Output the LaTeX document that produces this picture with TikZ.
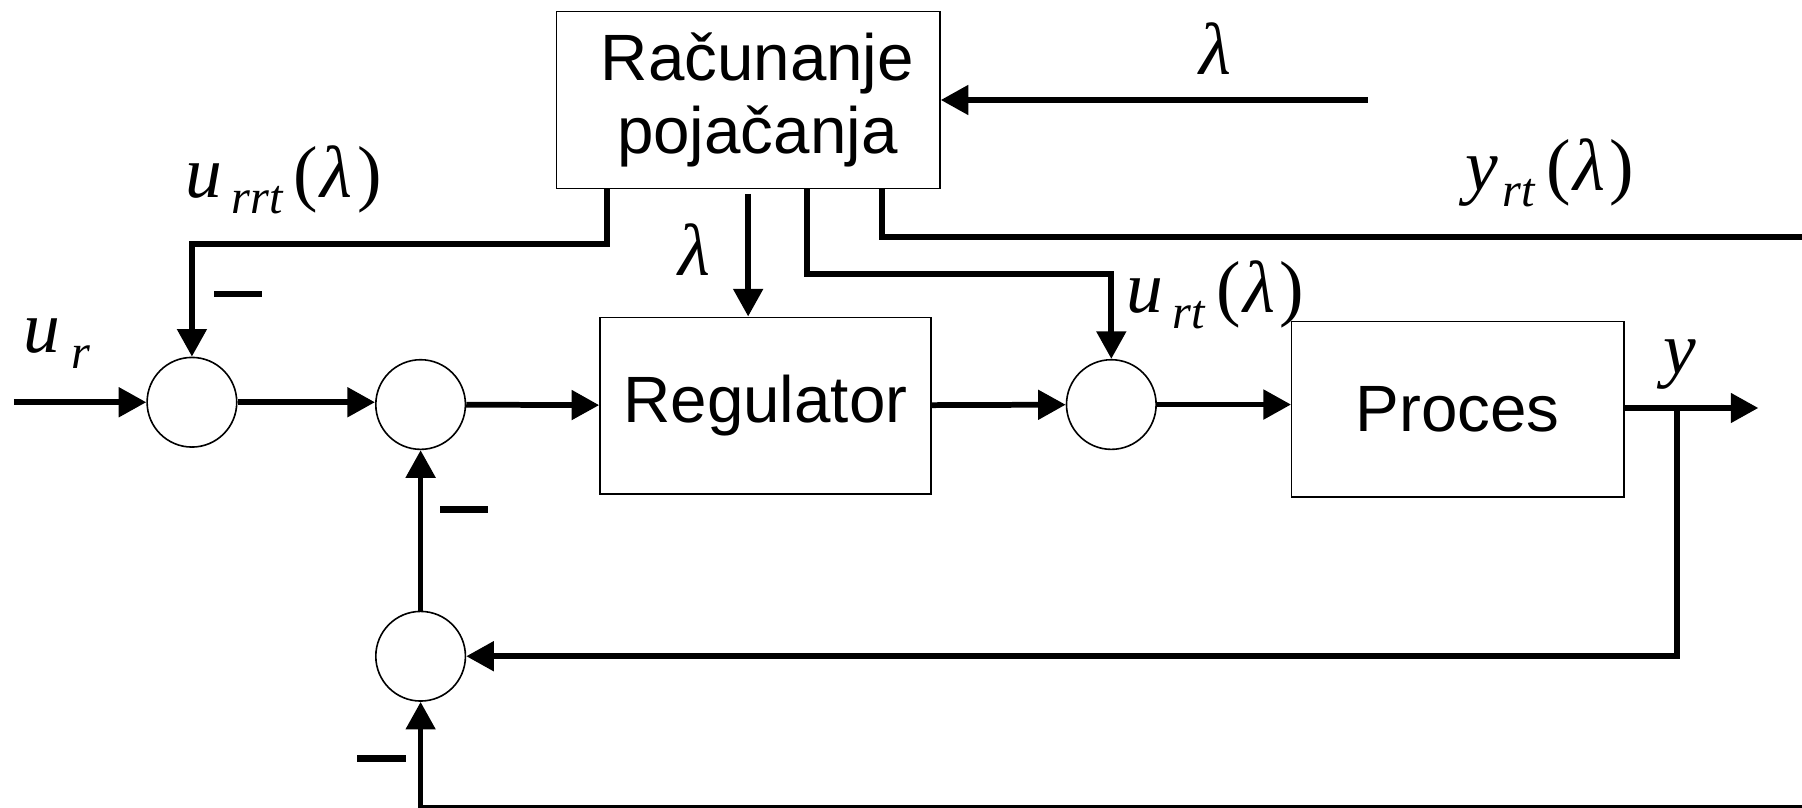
\documentclass[tikz,border=0pt]{standalone}
\usepackage{fontspec}
\setmainfont{Liberation Sans}
\newfontfamily\labfont{Liberation Serif}
\usetikzlibrary{arrows.meta,calc}
\newcommand{\subf}[1]{\raisebox{-7pt}{\fontsize{21}{21}\selectfont #1}}
\newcommand{\lamarg}{\hspace{5pt}{\upshape(}\hspace{1pt}λ\hspace{2pt}{\upshape)}}
\begin{document}
\begin{tikzpicture}[x=0.5pt,y=-0.5pt,
  blk/.style={draw,line width=0.6pt,inner sep=0pt,font=\fontsize{28.5}{31.5}\selectfont},
  sum/.style={draw,circle,line width=0.7pt,minimum size=39pt,inner sep=0pt},
  sig/.style={line width=2.5pt,-{Triangle[length=12pt,width=12.5pt]}},
  wire/.style={line width=2.5pt},
  lbl/.style={inner sep=0pt,anchor=base west,font=\fontsize{32}{32}\selectfont\labfont\itshape}]
\useasboundingbox (0,0) rectangle (1568,703);
% blocks
\node[blk,minimum width=167pt,minimum height=77pt,align=center,text width=160pt] (calc) at (651,87) {\hspace*{8pt}Računanje\\\hspace*{8pt}pojačanja};
\node[blk,minimum width=144pt,minimum height=77pt] (reg) at (666,353) {Regulator};
\node[blk,minimum width=144.5pt,minimum height=76.5pt] (proc) at (1268.5,356) {Proces};
% summing junctions
\node[sum] (c1) at (167,350) {};
\node[sum] (c2) at (366,352) {};
\node[sum] (c3) at (967,352) {};
\node[sum] (c4) at (366,571) {};
% free ends
\coordinate (in) at (12,350);
\coordinate (out) at (1530,355);
\coordinate (br) at (1459,355);
\coordinate (bot) at (1580,703);
\coordinate (lamin) at (1190,87);
\coordinate (yrtend) at (1580,206);
% main path
\draw[sig] (in) -- (c1);
\draw[sig] (c1.east) -- (c2.west |- c1.east);
\draw[sig] (c2) -- (reg);
\draw[sig] (reg) -- (c3);
\draw[sig] (c3) -- (proc.west |- c3);
\draw[sig] (proc.east |- out) -- (out);
\draw[sig] (br) |- (c4);
\draw[sig] (c4) -- (c2);
\draw[sig] (bot) -| (c4);
% signals from the top block
\draw[sig] ($(calc.south west)+(45,0)$) -- ++(0,48) -| (c1);
\draw[sig] ($(calc.south)+(0,4)$) -- (reg.north -| calc.south);
\draw[sig] ($(calc.south west)+(219,0)$) -- ++(0,74) -| (c3);
\draw[wire] ($(calc.south west)+(284,0)$) |- (yrtend);
\draw[sig] (lamin) -- (calc);
% minus signs
\fill (186,253) rectangle (228,258);
\fill (383,440) rectangle (425,446);
\fill (311,657) rectangle (353,663);
% labels
\node[lbl] (lt) at (1043,65) {λ};
\node[lbl] (ll) at (590,240) {λ};
\node[lbl] (ly) at (1447,325) {y};
\node[lbl] (lur) at (20,307) {u\hspace{5pt}\subf{r}};
\node[lbl] (lurrt) at (161,172) {u\hspace{4pt}\subf{rrt}\lamarg};
\node[lbl] (lyrt) at (1275,166) {y\hspace{2pt}\subf{rt}\lamarg};
\node[lbl] (lurt) at (980,272) {u\hspace{4pt}\subf{rt}\lamarg};
\end{tikzpicture}
\end{document}
